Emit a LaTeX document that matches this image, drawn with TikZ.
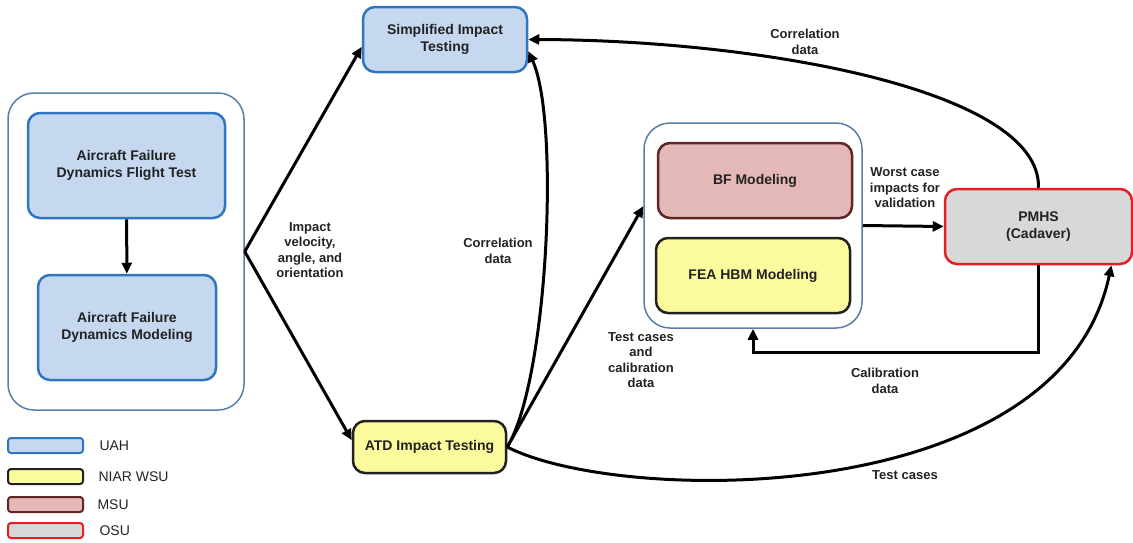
\documentclass[tikz,border=0pt]{standalone}
\usepackage{fontspec}
\setmainfont{Liberation Sans}
\usetikzlibrary{arrows.meta}
\definecolor{uahfill}{HTML}{C5D8F0}
\definecolor{uahline}{HTML}{2F76C0}
\definecolor{wsufill}{HTML}{FBFA9C}
\definecolor{msufill}{HTML}{E5B8B8}
\definecolor{msuline}{HTML}{5E2624}
\definecolor{osufill}{HTML}{D8D8D8}
\definecolor{osuline}{HTML}{E31E24}
\definecolor{groupline}{HTML}{5A7CA8}
\definecolor{ink}{HTML}{222222}

\begin{document}
\begin{tikzpicture}[x=1pt,y=-1pt,
    box/.style={draw,rounded corners=12pt,line width=2.5pt,align=center,inner sep=0pt,
      text=ink,font=\fontsize{14}{17}\selectfont\bfseries},
    uah/.style={box,draw=uahline,fill=uahfill},
    wsu/.style={box,draw=ink,fill=wsufill},
    msu/.style={box,draw=msuline,fill=msufill},
    osu/.style={box,draw=osuline,fill=osufill},
    group/.style={draw=groupline,line width=1.5pt,rounded corners=26pt,inner sep=0pt},
    swatch/.style={rounded corners=3pt,line width=2pt,minimum width=75pt,minimum height=15pt,inner sep=0pt},
    arr/.style={draw=black,line width=3pt,-{Triangle[length=11pt,width=10pt]}},
    lbl/.style={align=center,text=ink,font=\fontsize{13}{15.5}\selectfont\bfseries},
    key/.style={anchor=west,text=ink,font=\fontsize{14}{16}\selectfont}]
  \useasboundingbox (0,0) rectangle (1133,542);

  % UAH aircraft side
  \node[group,minimum width=236pt,minimum height=317pt] (afd) at (126,251.5) {};
  \node[uah,minimum width=197pt,minimum height=105pt] (flight) at (126.5,165.5) {Aircraft Failure\\Dynamics Flight Test};
  \node[uah,minimum width=178pt,minimum height=105pt] (model) at (127,327.5) {Aircraft Failure\\Dynamics Modeling};
  \draw[arr] (flight) -- (model);

  % impact testing
  \node[uah,minimum width=164pt,minimum height=65pt] (simp) at (445,39.5) {Simplified Impact\\Testing};
  \node[wsu,minimum width=153pt,minimum height=52pt] (atd) at (429.5,447) {ATD Impact Testing};

  % modeling group
  \node[group,minimum width=218pt,minimum height=205pt] (mid) at (753,225.5) {};
  \node[msu,minimum width=194pt,minimum height=75pt] (bf) at (755,180.5) {BF Modeling};
  \node[wsu,minimum width=194pt,minimum height=75pt] (fea) at (753,275.5) {FEA HBM Modeling};
  \node[osu,minimum width=187pt,minimum height=75pt] (pmhs) at (1038.5,226.5) {PMHS\\(Cadaver)};

  % connectors
  \draw[arr] (afd.east) -- (simp.185);
  \draw[arr] (afd.east) -- (atd.175);
  \draw[arr] (atd.east) .. controls (548,380) and (560,120) .. (simp.-8);
  \draw[arr] (atd.east) -- (mid.170);
  \draw[arr] (mid.east) -- (pmhs.west);
  \draw[arr] (pmhs.north) .. controls (1041,90) and (760,40) .. (simp.east);
  \draw[arr] (pmhs.south) -- ++(0,87) -| (mid.south);
  \draw[arr] (atd.east) .. controls (620,505) and (1060,510) .. (pmhs.-28);

  % labels
  \node[lbl] (lvel) at (310,250) {Impact\\velocity,\\angle, and\\orientation};
  \node[lbl] (lcor) at (498,251) {Correlation\\data};
  \node[lbl] (lcor2) at (805,42) {Correlation\\data};
  \node[lbl] (lworst) at (905,188) {Worst case\\impacts for\\validation};
  \node[lbl] (ltest) at (641,360) {Test cases\\and\\calibration\\data};
  \node[lbl] (lcal) at (885,381) {Calibration\\data};
  \node[lbl] (lcase) at (905,475) {Test cases};

  % legend
  \node[swatch,draw=uahline,fill=uahfill] (kuah) at (45.5,445.5) {};
  \node[swatch,draw=ink,fill=wsufill] (kwsu) at (45.5,476.5) {};
  \node[swatch,draw=msuline,fill=msufill] (kmsu) at (45.5,504.5) {};
  \node[swatch,draw=osuline,fill=osufill] (kosu) at (45.5,530.5) {};
  \node[key] (tuah) at (96,445.5) {UAH};
  \node[key] (twsu) at (95,476.5) {NIAR WSU};
  \node[key] (tmsu) at (94,504.5) {MSU};
  \node[key] (tosu) at (96,530.5) {OSU};
\end{tikzpicture}
\end{document}
